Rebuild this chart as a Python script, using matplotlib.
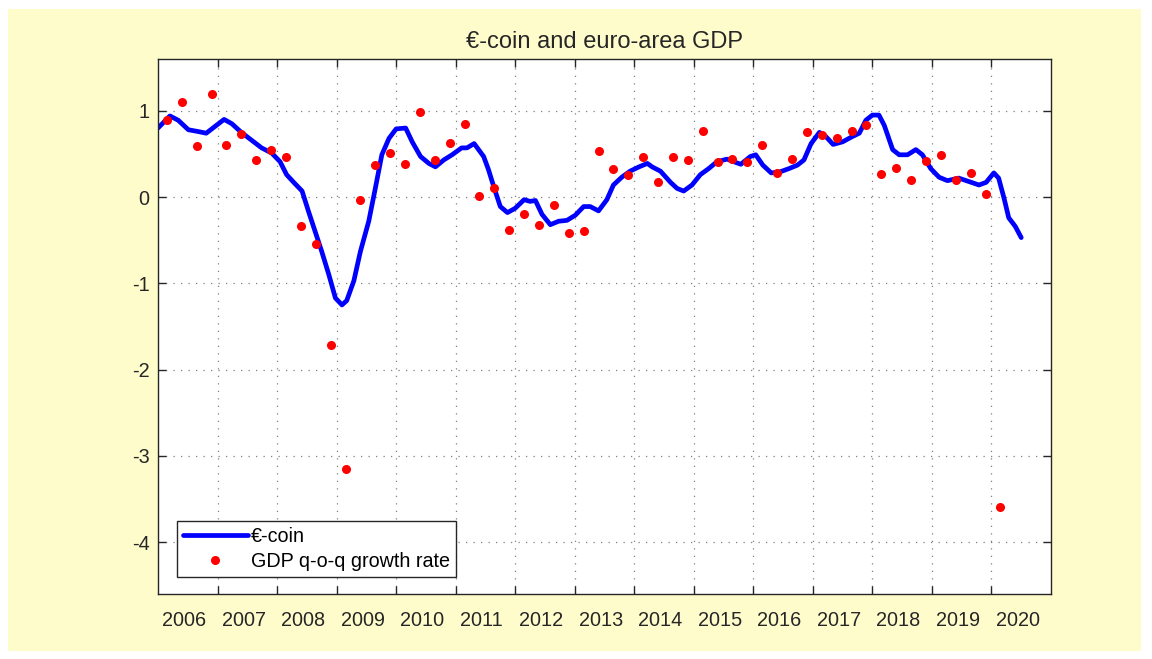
import numpy as np
import matplotlib.pyplot as plt
from matplotlib.patches import Rectangle

plt.rcParams['font.family'] = ['Liberation Sans', 'DejaVu Sans']
plt.rcParams['axes.unicode_minus'] = False

# GDP q-o-q growth, quarterly 2006Q1 .. 2020Q1
gdp_q1_pos = 2006.15
gdp = [0.89, 1.10, 0.59, 1.19,
       0.60, 0.73, 0.43, 0.54,
       0.46, -0.33, -0.54, -1.72,
       -3.15, -0.03, 0.37, 0.51,
       0.38, 0.99, 0.43, 0.63,
       0.85, 0.01, 0.10, -0.38,
       -0.20, -0.32, -0.09, -0.42,
       -0.39, 0.53, 0.32, 0.25,
       0.47, 0.18, 0.47, 0.43,
       0.76, 0.41, 0.44, 0.41,
       0.60, 0.28, 0.44, 0.75,
       0.72, 0.68, 0.77, 0.83,
       0.27, 0.34, 0.20, 0.42,
       0.49, 0.20, 0.28, 0.03,
       -3.59]
gdp_t = gdp_q1_pos + 0.25 * np.arange(len(gdp))

# €-coin indicator
coin_t = [2006.00, 2006.20, 2006.34, 2006.51, 2006.67, 2006.81, 2006.96, 2007.11,
          2007.24, 2007.40, 2007.57, 2007.74, 2007.91, 2008.05, 2008.16, 2008.28,
          2008.42, 2008.53, 2008.64, 2008.75, 2008.87, 2008.98, 2009.09, 2009.17,
          2009.29, 2009.40, 2009.54, 2009.65, 2009.76, 2009.88, 2010.00, 2010.16,
          2010.27, 2010.41, 2010.55, 2010.66, 2010.80, 2010.94, 2011.10, 2011.19,
          2011.31, 2011.47, 2011.55, 2011.64, 2011.75, 2011.87, 2012.00, 2012.15,
          2012.25, 2012.34, 2012.45, 2012.59, 2012.73, 2012.87, 2013.01, 2013.15,
          2013.26, 2013.40, 2013.54, 2013.65, 2013.79, 2013.93, 2014.08, 2014.22,
          2014.30, 2014.44, 2014.61, 2014.72, 2014.83, 2014.97, 2015.11, 2015.25,
          2015.39, 2015.56, 2015.67, 2015.79, 2015.95, 2016.04, 2016.16, 2016.30,
          2016.44, 2016.60, 2016.74, 2016.85, 2016.97, 2017.11, 2017.22, 2017.34,
          2017.50, 2017.66, 2017.78, 2017.89, 2018.00, 2018.11, 2018.20, 2018.34,
          2018.45, 2018.59, 2018.73, 2018.84, 2018.98, 2019.12, 2019.26, 2019.45,
          2019.62, 2019.79, 2019.91, 2020.04, 2020.12, 2020.21, 2020.29, 2020.40,
          2020.50]
coin = [0.80, 0.94, 0.89, 0.78, 0.76, 0.74, 0.82, 0.90,
        0.85, 0.75, 0.66, 0.57, 0.51, 0.41, 0.26, 0.17,
        0.07, -0.17, -0.40, -0.63, -0.90, -1.17, -1.25, -1.20,
        -0.97, -0.63, -0.28, 0.10, 0.49, 0.68, 0.79, 0.80,
        0.64, 0.47, 0.39, 0.35, 0.43, 0.49, 0.57, 0.57,
        0.62, 0.47, 0.32, 0.12, -0.11, -0.18, -0.13, -0.03,
        -0.05, -0.04, -0.20, -0.32, -0.28, -0.27, -0.21, -0.11,
        -0.11, -0.16, -0.03, 0.14, 0.23, 0.30, 0.35, 0.39,
        0.35, 0.30, 0.17, 0.10, 0.07, 0.14, 0.26, 0.33,
        0.41, 0.44, 0.41, 0.38, 0.47, 0.49, 0.37, 0.28,
        0.29, 0.33, 0.37, 0.43, 0.62, 0.75, 0.70, 0.61,
        0.64, 0.70, 0.74, 0.89, 0.95, 0.95, 0.83, 0.55,
        0.49, 0.49, 0.55, 0.49, 0.33, 0.23, 0.19, 0.22,
        0.18, 0.14, 0.17, 0.28, 0.22, -0.01, -0.24, -0.34,
        -0.47]

years = list(range(2006, 2021))
yticks = [1, 0, -1, -2, -3, -4]

fig = plt.figure(figsize=(11.52, 6.59), dpi=100, facecolor='white')
fig.patches.append(Rectangle((8 / 1152, 1 - 651 / 659), 1133 / 1152, 642 / 659,
                             transform=fig.transFigure, facecolor='#fffccc',
                             edgecolor='none', zorder=-10))
ax = fig.add_axes([158 / 1152, 1 - 594 / 659, 893 / 1152, 535 / 659])

ax.plot(coin_t, coin, color='#0000ff', linewidth=3.4, label='€-coin',
        solid_joinstyle='round', solid_capstyle='round')
ax.plot(gdp_t, gdp, linestyle='none', marker='o', markersize=5.5,
        color='#ff0000', label='GDP q-o-q growth rate')

ax.set_xlim(2006, 2021)
ax.set_ylim(-4.6, 1.6)
ax.set_yticks(yticks)
ax.set_yticklabels([str(v) for v in yticks])
ax.set_xticks(range(2007, 2021))
ax.set_xticklabels([])
ax.set_xticks([y + 0.44 for y in years], minor=True)
ax.set_xticklabels([str(y) for y in years], minor=True)

ax.tick_params(which='major', direction='in', length=6, width=1, color='#262626',
               top=True, right=True, labelsize=14.3, pad=6)
ax.tick_params(axis='x', which='minor', length=0, labelsize=14.3, pad=12,
               labelcolor='#262626')
ax.tick_params(axis='y', labelcolor='#262626')
ax.grid(True, which='major', linestyle=(0, (1, 5)), color='#808080', linewidth=0.9)
for s in ax.spines.values():
    s.set_color('#262626')
    s.set_linewidth(1)

ax.set_title('€-coin and euro-area GDP', fontsize=17, color='#262626', pad=8)

leg = ax.legend(loc='lower left', bbox_to_anchor=(0.021, 0.032), borderaxespad=0,
                fontsize=14.2, handlelength=3.3, handletextpad=0.15,
                fancybox=False, framealpha=1, edgecolor='#262626',
                borderpad=0.3, labelspacing=0.3)
leg.get_frame().set_linewidth(1)

plt.savefig('out.png', dpi=100, facecolor=fig.get_facecolor())
